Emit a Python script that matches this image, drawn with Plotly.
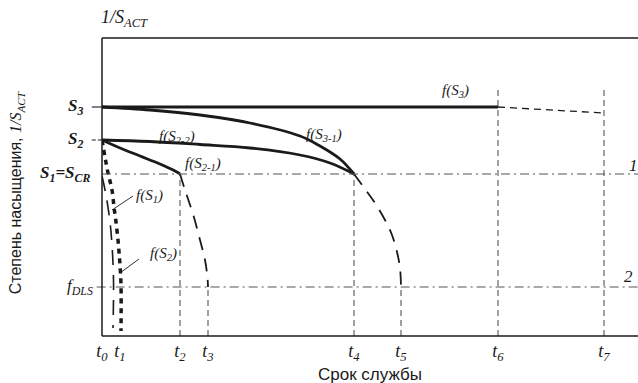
import plotly.graph_objects as go

# ---- data (time units along x, saturation units along y) ----
t_vals = [0.0, 1.8, 7.8, 10.6, 25.2, 29.9, 39.6, 50.2]
t_text = ["<i>t</i><sub><i>%d</i></sub>" % i for i in range(8)]

S3 = 22.9
S2 = 19.6
S1 = 16.2
F_DLS = 4.9
GRID_TOP = 24.8

# f(S3): thick, then dashed continuation
fS3_x = [0.0, 39.6]
fS3_y = [22.9, 22.9]
fS3_ext_x = [39.6, 50.2]
fS3_ext_y = [22.9, 22.3]

# f(S3-1)
fS31_x = [0.0, 4.8, 9.8, 14.8, 19.8, 21.8, 23.8, 25.2]
fS31_y = [22.9, 22.6, 22.1, 21.3, 20.0, 19.0, 17.7, 16.2]

# f(S2-2)
fS22_x = [0.0, 4.8, 9.8, 14.8, 19.8, 22.8, 25.2]
fS22_y = [19.6, 19.45, 19.15, 18.8, 18.1, 17.3, 16.2]

# f(S2-1)
fS21_x = [0.0, 1.8, 3.8, 5.8, 7.3, 7.8]
fS21_y = [19.6, 18.8, 18.0, 17.2, 16.5, 16.2]

# continuation after t2
c2_x = [7.8, 8.3, 9.1, 9.8, 10.3, 10.55, 10.6]
c2_y = [16.2, 14.6, 12.2, 9.6, 7.6, 5.8, 4.9]

# continuation after t4
c4_x = [25.2, 26.3, 27.3, 28.3, 29.0, 29.5, 29.8, 29.9]
c4_y = [16.2, 14.7, 13.3, 11.6, 10.1, 8.4, 6.8, 4.9]

# f(S2) thick dotted
fS2_x = [0.0, 0.3, 0.6, 1.0, 1.2, 1.4, 1.6, 1.7, 1.8, 1.9, 1.9]
fS2_y = [19.6, 17.9, 16.3, 14.6, 12.9, 11.4, 9.6, 8.4, 7.1, 5.1, 0.5]

# f(S1) thin long-dashed
fS1_x = [0.0, 0.4, 0.8, 1.0, 1.15, 1.1]
fS1_y = [16.0, 14.1, 11.4, 9.1, 5.6, 0.8]

INK = "#1a1a1a"
GRID = "#555555"
SERIF = "Liberation Serif"
SANS = "Liberation Sans"

fig = go.Figure()

def line(x, y, width, dash="solid", color=INK, shape="spline"):
    fig.add_trace(go.Scatter(x=x, y=y, mode="lines",
                             line=dict(color=color, width=width, dash=dash, shape=shape),
                             hoverinfo="skip", showlegend=False))

# guide lines
for tv, top in [(t_vals[2], S1), (t_vals[3], F_DLS), (t_vals[4], S1),
                (t_vals[5], F_DLS), (t_vals[6], GRID_TOP), (t_vals[7], GRID_TOP)]:
    line([tv, tv], [0, top], 1.1, "6px,4px", GRID, "linear")

fig.add_shape(type="line", xref="paper", yref="y", x0=0, x1=1, y0=S1, y1=S1,
              line=dict(color=GRID, width=1.1, dash="9px,4px,2px,4px"))
fig.add_shape(type="line", xref="paper", yref="y", x0=-0.01, x1=1, y0=F_DLS, y1=F_DLS,
              line=dict(color=GRID, width=1.1, dash="9px,4px,2px,4px"))
# small ticks at S3, S2
fig.add_shape(type="line", xref="paper", yref="y", x0=-0.019, x1=0, y0=S3, y1=S3,
              line=dict(color=INK, width=1.1))
fig.add_shape(type="line", xref="paper", yref="y", x0=-0.019, x1=0, y0=S2, y1=S2,
              line=dict(color=INK, width=1.1, dash="4px,2px"))
# frame: left, bottom, top
frame = dict(color=INK, width=1.5)
fig.add_shape(type="line", xref="paper", yref="paper", x0=0, x1=0, y0=0, y1=1, line=frame)
fig.add_shape(type="line", xref="paper", yref="paper", x0=0, x1=1, y0=0, y1=0, line=frame)
fig.add_shape(type="line", xref="paper", yref="paper", x0=0, x1=1, y0=1, y1=1, line=frame)

# curves
line(fS3_x, fS3_y, 3.2, shape="linear")
line(fS3_ext_x, fS3_ext_y, 1.3, "7px,5px", INK, "linear")
line(fS31_x, fS31_y, 2.8)
line(fS22_x, fS22_y, 2.8)
line(fS21_x, fS21_y, 2.8)
line(c2_x, c2_y, 1.8, "13px,9px")
line(c4_x, c4_y, 1.8, "13px,9px")
line(fS2_x, fS2_y, 3.5, "5px,5px")
line(fS1_x, fS1_y, 1.6, "15px,10px")

# leader lines
line([1.0, 3.1], [12.6, 14.0], 0.9, shape="linear")
line([1.8, 3.7], [6.3, 7.7], 0.9, shape="linear")

ann = []
def label(text, x, y, size=14, xref="x", yref="y", xanchor="center", family=SERIF, angle=0):
    ann.append(dict(text=text, x=x, y=y, xref=xref, yref=yref, showarrow=False,
                    xanchor=xanchor, yanchor="middle", textangle=angle,
                    font=dict(family=family, size=size, color=INK)))

def fl(sub):
    return "<i>f(S</i><sub><i>%s</i></sub><i>)</i>" % sub

label(fl("3"), 35.3, 24.5, 15)
label(fl("3-1"), 22.2, 20.1, 15)
label(fl("2-2"), 7.5, 19.9, 15)
label(fl("2-1"), 10.1, 17.2, 15)
label(fl("1"), 4.7, 14.0, 15)
label(fl("2"), 6.1, 8.2, 15)
label("<i>1</i>", 53.1, 17.1, 17)
label("<i>2</i>", 52.6, 6.0, 17)

# y-level labels
label("<b><i>S</i></b><sub><b><i>3</i></b></sub>", -0.031, S3, 17, xref="paper", xanchor="right")
label("<b><i>S</i></b><sub><b><i>2</i></b></sub>", -0.031, S2, 17, xref="paper", xanchor="right")
label("<b><i>S</i></b><sub><b><i>1</i></b></sub><b><i>=S</i></b><sub><b><i>CR</i></b></sub>",
      -0.016, S1, 17, xref="paper", xanchor="right")
label("<i>f</i><sub><i>DLS</i></sub>", -0.013, F_DLS, 17, xref="paper", xanchor="right")

# axis captions
label("<i>1/S</i><sub><i>ACT</i></sub>", -0.005, 1.064, 18, xref="paper", yref="paper", xanchor="left")
label("Срок службы", 0.5, -0.128, 17, xref="paper", yref="paper", family=SANS)
label("Степень насыщения, <span style=\"font-family:'Liberation Serif'\"><i>1/S</i><sub><i>ACT</i></sub></span>",
      -0.158, 0.48, 16, xref="paper", yref="paper", family=SANS, angle=-90)

fig.update_layout(
    width=638, height=383,
    margin=dict(l=102, r=0, t=38, b=47),
    paper_bgcolor="white", plot_bgcolor="white",
    annotations=ann,
    xaxis=dict(range=[0, 53.6], showgrid=False, zeroline=False,
               showline=False, tickvals=t_vals, ticktext=t_text, ticks="",
               ticklabelstandoff=2,
               tickfont=dict(family=SERIF, size=18, color=INK)),
    yaxis=dict(range=[0, 29.8], showgrid=False, zeroline=False,
               showline=False, showticklabels=False, ticks=""),
)

fig.write_html("out.html", config={"displayModeBar": False, "staticPlot": True},
               post_script="document.body.style.margin='0';document.body.style.overflow='hidden';")
